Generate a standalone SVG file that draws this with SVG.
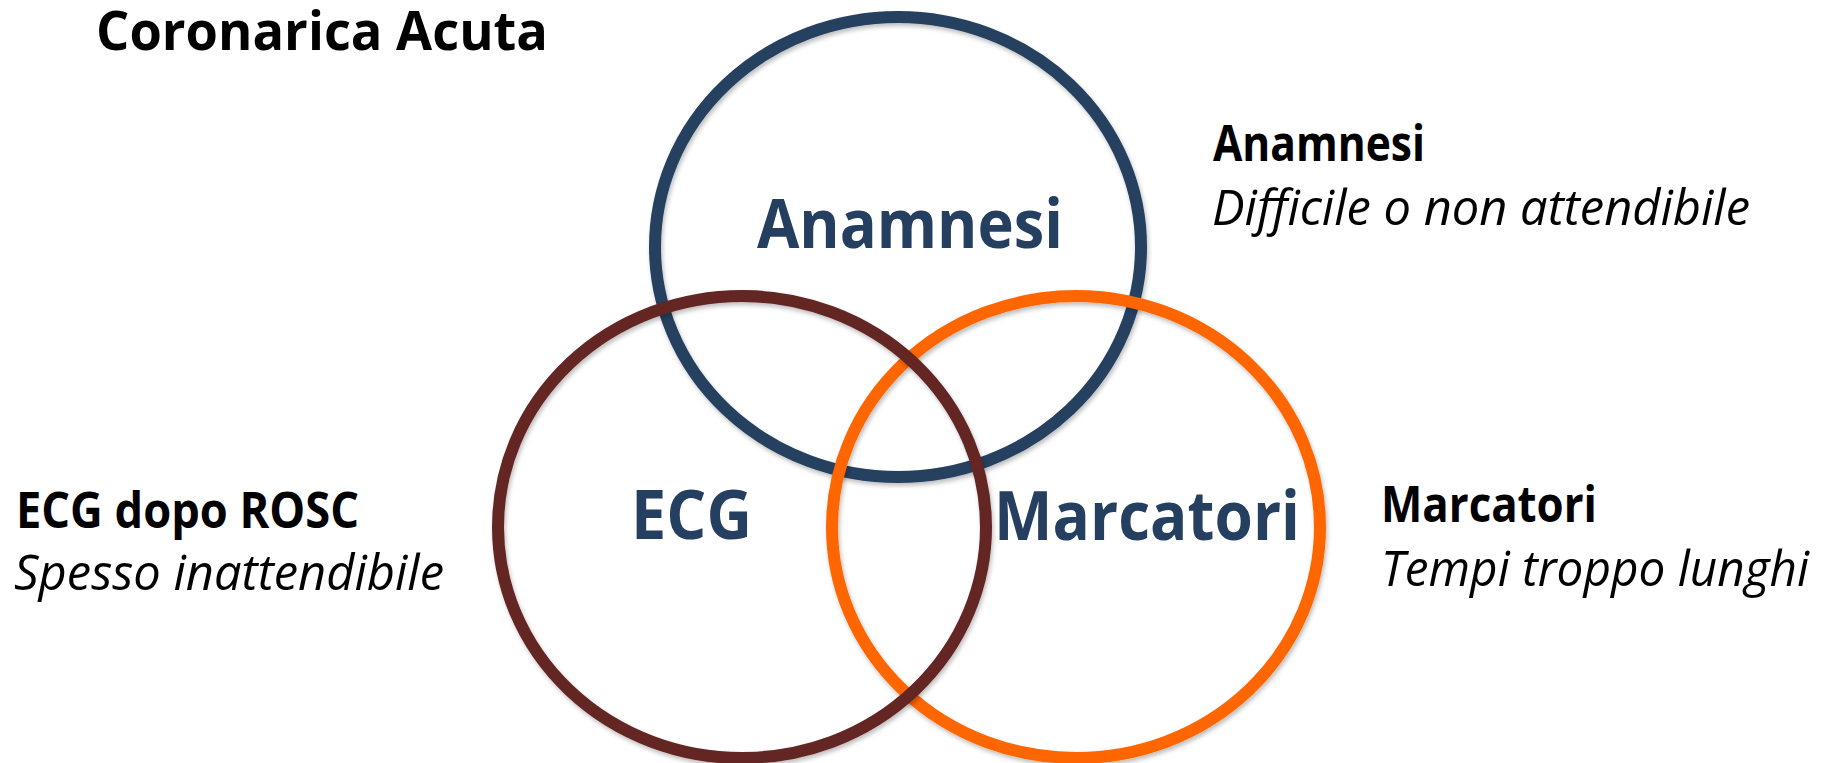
<svg xmlns="http://www.w3.org/2000/svg" width="1827" height="763" viewBox="0 0 1827 763">
  <style>
    .ring { fill: none; stroke-width: 12; filter: url(#sh); }
    .lbl { font-family: "Open Sans", "Noto Sans", "Liberation Sans", sans-serif; font-weight: 700; fill: #253F61; font-size: 68px; }
    .hd { font-family: "Open Sans", "Noto Sans", "Liberation Sans", sans-serif; font-weight: 700; fill: #000000; font-size: 50px; }
    .it { font-family: "Open Sans", "Noto Sans", "Liberation Sans", sans-serif; font-style: italic; font-weight: 400; fill: #000000; font-size: 50px; }
  </style>
  <defs>
    <filter id="sh" x="-10%" y="-10%" width="120%" height="120%">
      <feDropShadow dx="1.5" dy="3" stdDeviation="2" flood-color="#000" flood-opacity="0.25"/>
    </filter>
  </defs>
  <rect width="1827" height="763" fill="#ffffff"/>

  <text class="hd" x="96" y="50" style="font-size:54px" textLength="452" lengthAdjust="spacingAndGlyphs">Coronarica Acuta</text>

  <g id="anamnesi">
    <ellipse class="ring" cx="898" cy="247" rx="243" ry="230" stroke="#254061"/>
    <text class="lbl" x="757" y="248" textLength="306" lengthAdjust="spacingAndGlyphs">Anamnesi</text>
  </g>
  <g id="marcatori">
    <ellipse class="ring" cx="1076" cy="527" rx="244" ry="231" stroke="#FF6600"/>
    <text class="lbl" x="994" y="540" textLength="306" lengthAdjust="spacingAndGlyphs">Marcatori</text>
  </g>
  <g id="ecg">
    <ellipse class="ring" cx="742" cy="527" rx="244" ry="231" stroke="#632523"/>
    <text class="lbl" x="631" y="539" textLength="121" lengthAdjust="spacingAndGlyphs">ECG</text>
  </g>

  <g id="note-anamnesi">
    <text class="hd" x="1213" y="161" textLength="212" lengthAdjust="spacingAndGlyphs">Anamnesi</text>
    <text class="it" x="1212" y="225" textLength="538" lengthAdjust="spacingAndGlyphs">Difficile o non attendibile</text>
  </g>
  <g id="note-ecg">
    <text class="hd" x="16" y="528" textLength="343" lengthAdjust="spacingAndGlyphs">ECG dopo ROSC</text>
    <text class="it" x="14" y="590" textLength="430" lengthAdjust="spacingAndGlyphs">Spesso inattendibile</text>
  </g>
  <g id="note-marcatori">
    <text class="hd" x="1381" y="522" textLength="216" lengthAdjust="spacingAndGlyphs">Marcatori</text>
    <text class="it" x="1381" y="586" textLength="428" lengthAdjust="spacingAndGlyphs">Tempi troppo lunghi</text>
  </g>
  <g id="connectors"></g>
</svg>
